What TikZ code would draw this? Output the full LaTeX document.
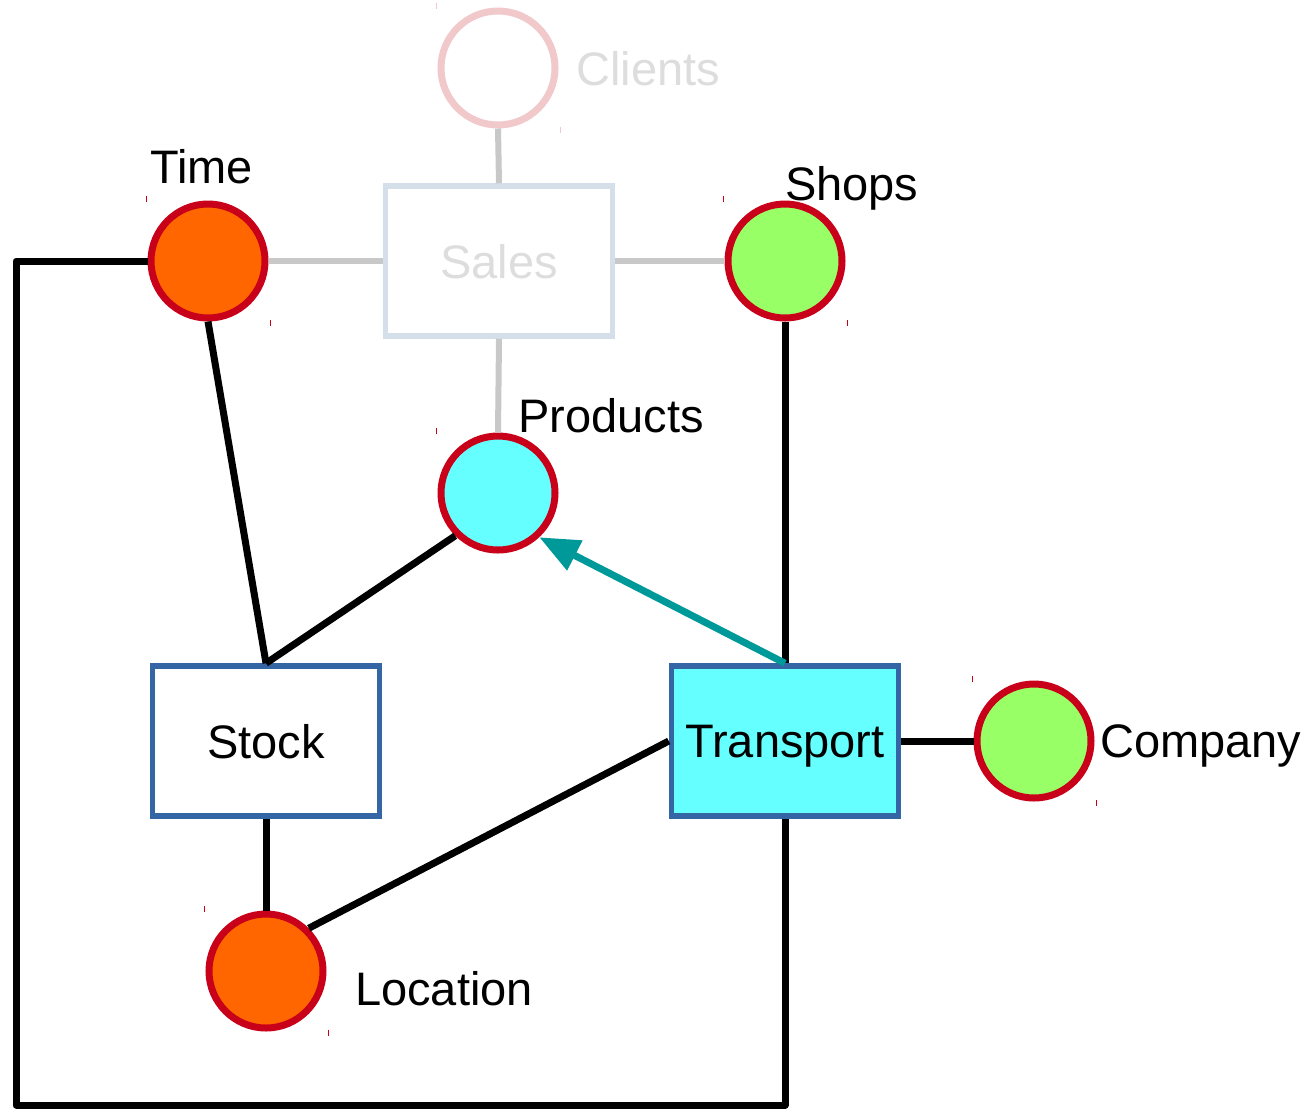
\documentclass[tikz,border=0pt]{standalone}
\usepackage{fontspec}
\setmainfont{Liberation Sans}
\usetikzlibrary{positioning,arrows.meta}

\definecolor{ringred}{HTML}{C9001A}
\definecolor{dimred}{HTML}{F2C9CA}
\definecolor{dimbox}{HTML}{D5DFEA}
\definecolor{dimtext}{HTML}{DDDDDD}
\definecolor{dimline}{HTML}{C8C8C8}
\definecolor{dimorange}{HTML}{FF6600}
\definecolor{dimgreen}{HTML}{99FF66}
\definecolor{dimcyan}{HTML}{66FFFF}
\definecolor{boxblue}{HTML}{3465A4}
\definecolor{teal2}{HTML}{009999}

\begin{document}
\begin{tikzpicture}[
  x=1pt,y=-1pt,
  font=\fontsize{47}{56}\selectfont,
  dim/.style={circle,draw=ringred,line width=7pt,minimum size=114pt,inner sep=0pt},
  table/.style={draw=boxblue,line width=5.5pt,minimum width=227pt,minimum height=150pt,inner sep=0pt,text depth=0pt},
  tag/.style={inner sep=0pt,anchor=base west},
  link/.style={line width=7pt,line join=round},
  faded/.style={dimline,line width=6pt},
  arr/.style={teal2,line width=7pt,-{Triangle[length=40pt,width=32pt]}}
]
\useasboundingbox (0,0) rectangle (1313,1112);

% Top - faded sales star
\node[dim,draw=dimred,fill=white] (clients) at (498,68) {};
\node[tag,text=dimtext] (clientslbl) at (576,85) {Clients};
\node[table,draw=dimbox,text=dimtext] (sales) at (499,261) {Sales};

% Dimensions
\node[dim,fill=dimorange] (time) at (208,261) {};
\node[tag] (timelbl) at (150,183) {Time};
\node[dim,fill=dimgreen] (shops) at (785,261) {};
\node[tag] (shopslbl) at (785,200) {Shops};
\node[dim,fill=dimcyan] (products) at (498,493) {};
\node[tag] (productslbl) at (518,432) {Products};
\node[dim,fill=dimgreen] (company) at (1034,741) {};
\node[tag] (companylbl) at (1100,757) {Company};
\node[dim,fill=dimorange] (location) at (266,971) {};
\node[tag] (locationlbl) at (355,1005) {Location};

% Fact tables
\node[table,fill=white] (stock) at (266,741) {Stock};
\node[table,fill=dimcyan] (transport) at (785,741) {Transport};

% Corner ticks
\foreach \d in {time,shops,products,company,location}
  \draw[ringred,line width=1pt] ([shift={(-1,-5)}]\d.west|-\d.north) -- ++(0,6)
    ([shift={(2,-2)}]\d.east|-\d.south) -- ++(0,6);
\draw[dimred,line width=1pt] ([shift={(-1,-5)}]clients.west|-clients.north) -- ++(0,6)
  ([shift={(2,-2)}]clients.east|-clients.south) -- ++(0,6);

% Faded links
\draw[faded] (clients.south) -- (sales.north);
\draw[faded] (time.east) -- (sales.west);
\draw[faded] (sales.east) -- (shops.west);
\draw[faded] (sales.south) -- (products.north);

% Links
\coordinate (loopcorner) at (16,1105);
\draw[link] (time.west) -| (loopcorner) -| (transport.south);
\draw[link] (time.south) -- (stock.north);
\draw[link] (products.-135) -- (stock.north);
\draw[link] (shops.south) -- (transport.north);
\draw[link] (transport.east) -- (company.west);
\draw[link] (stock.south) -- (location.north);
\draw[link] (location.45) -- (transport.west);
\draw[arr] (transport.north) -- (products.-47);
\end{tikzpicture}
\end{document}
